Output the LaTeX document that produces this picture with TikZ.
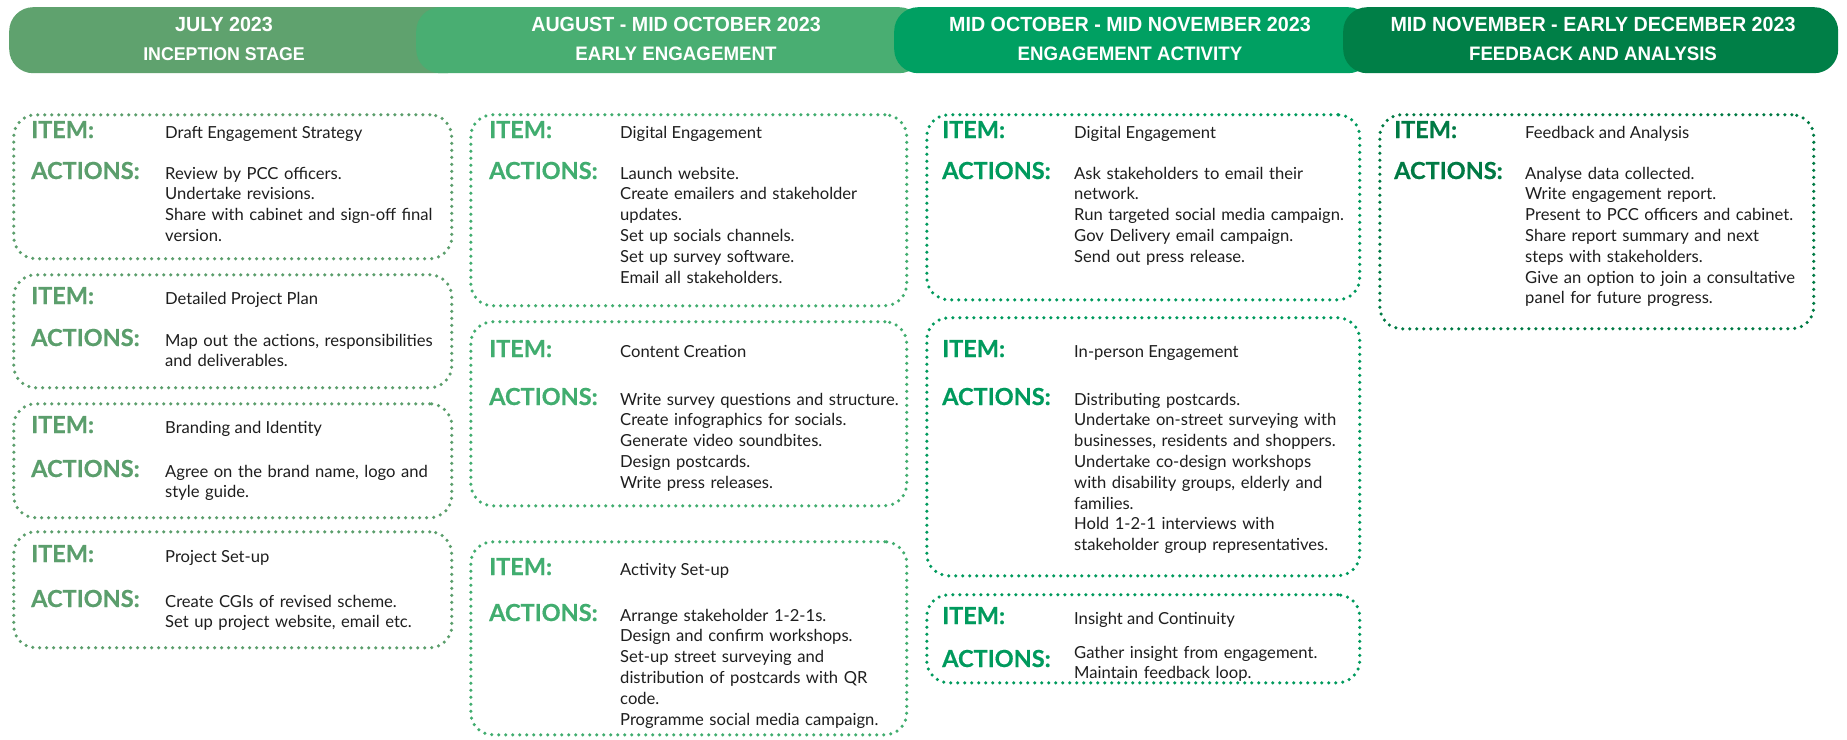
\documentclass[tikz,border=0pt]{standalone}
\usepackage{fontspec}
\setmainfont{Lato}
\newfontfamily\headfont[FakeStretch=0.96]{Liberation Sans}
\newfontfamily\labelfont[FakeBold=0.5]{Lato}
\usetikzlibrary{positioning}

\definecolor{phaseA}{HTML}{5FA26E}
\definecolor{phaseB}{HTML}{49AE72}
\definecolor{phaseC}{HTML}{00A062}
\definecolor{phaseD}{HTML}{007F47}
\definecolor{labelA}{HTML}{5B9E6C}
\definecolor{labelB}{HTML}{41AD6F}
\definecolor{labelC}{HTML}{009A5D}
\definecolor{labelD}{HTML}{007A44}
\definecolor{bodygray}{HTML}{1E1E1E}

\begin{document}
\begin{tikzpicture}[x=1pt,y=-1pt,
      phase/.style={rounded corners=24pt,anchor=north west,inner sep=0pt,minimum height=66pt},
      phasetext/.style={text=white,font=\headfont\bfseries\fontsize{20.5}{24}\selectfont,inner sep=0pt},
      phasesub/.style={phasetext,font=\headfont\bfseries\fontsize{19.5}{22}\selectfont},
      taskbox/.style={draw=#1,line width=3.5pt,dash pattern=on 0pt off 7pt,line cap=round,
                      rounded corners=22pt,anchor=north west,inner sep=0pt},
      lbl/.style={text=#1,font=\labelfont\bfseries\fontsize{23.5}{26}\selectfont,anchor=base west,inner sep=0pt},
      ttl/.style={text=bodygray,font=\fontsize{16.6}{20.8}\selectfont,anchor=base west,inner sep=0pt},
      acts/.style={ttl,text width=330pt,align=left}
     ]
    \useasboundingbox[fill=white] (0,0) rectangle (1847,739);

    \node[phase,fill=phaseA,minimum width=461pt] (julyband) at (9,7) {};
    \node[phase,fill=phaseB,minimum width=507pt] (augband) at (416,7) {};
    \node[phase,fill=phaseC,minimum width=478pt] (octband) at (894,7) {};
    \node[phase,fill=phaseD,minimum width=495pt] (novband) at (1343,7) {};
    \node[phasetext] (julytop) at (224,24) {JULY 2023};
    \node[phasesub,font=\headfont\bfseries\fontsize{18.5}{20}\selectfont] (julysub) at (224,54) {INCEPTION STAGE};
    \node[phasetext] (augtop) at (676,24) {AUGUST - MID OCTOBER 2023};
    \node[phasesub] (augsub) at (676,54) {EARLY ENGAGEMENT};
    \node[phasetext] (octtop) at (1130,24) {MID OCTOBER - MID NOVEMBER 2023};
    \node[phasesub] (octsub) at (1130,54) {ENGAGEMENT ACTIVITY};
    \node[phasetext] (novtop) at (1593,24) {MID NOVEMBER - EARLY DECEMBER 2023};
    \node[phasesub] (novsub) at (1593,54) {FEEDBACK AND ANALYSIS};

    \node[taskbox=labelA,minimum width=438pt,minimum height=144pt] (draft) at (12,113) {};
    \node[lbl=labelA] (draftitem) at (31,138) {ITEM:};
    \node[ttl] (drafttitle) at (165,138) {Draft Engagement Strategy};
    \node[lbl=labelA] (draftact) at (31,179) {ACTIONS:};
    \node[acts] (draftlist) at (165,179) {Review by PCC officers.\\Undertake revisions.\\Share with cabinet and sign-off final\\version.};

    \node[taskbox=labelA,minimum width=438pt,minimum height=113pt] (plan) at (12,273) {};
    \node[lbl=labelA] (planitem) at (31,304) {ITEM:};
    \node[ttl] (plantitle) at (165,304) {Detailed Project Plan};
    \node[lbl=labelA] (planact) at (31,346) {ACTIONS:};
    \node[acts] (planlist) at (165,346) {Map out the actions, responsibilities\\and deliverables.};

    \node[taskbox=labelA,minimum width=438pt,minimum height=114pt] (brand) at (12,402) {};
    \node[lbl=labelA] (branditem) at (31,433) {ITEM:};
    \node[ttl] (brandtitle) at (165,433) {Branding and Identity};
    \node[lbl=labelA] (brandact) at (31,477) {ACTIONS:};
    \node[acts] (brandlist) at (165,477) {Agree on the brand name, logo and\\style guide.};

    \node[taskbox=labelA,minimum width=438pt,minimum height=116pt] (setup) at (12,530) {};
    \node[lbl=labelA] (setupitem) at (31,562) {ITEM:};
    \node[ttl] (setuptitle) at (165,562) {Project Set-up};
    \node[lbl=labelA] (setupact) at (31,607) {ACTIONS:};
    \node[acts] (setuplist) at (165,607) {Create CGIs of revised scheme.\\Set up project website, email etc.};

    \node[taskbox=labelB,minimum width=436pt,minimum height=191pt] (digital) at (469,113) {};
    \node[lbl=labelB] (digitalitem) at (489,138) {ITEM:};
    \node[ttl] (digitaltitle) at (620,138) {Digital Engagement};
    \node[lbl=labelB] (digitalact) at (489,179) {ACTIONS:};
    \node[acts] (digitallist) at (620,179) {Launch website.\\Create emailers and stakeholder\\updates.\\Set up socials channels.\\Set up survey software.\\Email all stakeholders.};

    \node[taskbox=labelB,minimum width=436pt,minimum height=184pt] (content) at (469,320) {};
    \node[lbl=labelB] (contentitem) at (489,357) {ITEM:};
    \node[ttl] (contenttitle) at (620,357) {Content Creation};
    \node[lbl=labelB] (contentact) at (489,405) {ACTIONS:};
    \node[acts] (contentlist) at (620,405) {Write survey questions and structure.\\Create infographics for socials.\\Generate video soundbites.\\Design postcards.\\Write press releases.};

    \node[taskbox=labelB,minimum width=436pt,minimum height=193pt] (activity) at (469,540) {};
    \node[lbl=labelB] (activityitem) at (489,575) {ITEM:};
    \node[ttl] (activitytitle) at (620,575) {Activity Set-up};
    \node[lbl=labelB] (activityact) at (489,621) {ACTIONS:};
    \node[acts] (activitylist) at (620,621) {Arrange stakeholder 1-2-1s.\\Design and confirm workshops.\\Set-up street surveying and\\distribution of postcards with QR\\code.\\Programme social media campaign.};

    \node[taskbox=labelC,minimum width=433pt,minimum height=185pt] (outreach) at (925,113) {};
    \node[lbl=labelC] (outreachitem) at (942,138) {ITEM:};
    \node[ttl] (outreachtitle) at (1074,138) {Digital Engagement};
    \node[lbl=labelC] (outreachact) at (942,179) {ACTIONS:};
    \node[acts] (outreachlist) at (1074,179) {Ask stakeholders to email their\\network.\\Run targeted social media campaign.\\Gov Delivery email campaign.\\Send out press release.};

    \node[taskbox=labelC,minimum width=433pt,minimum height=258pt] (inperson) at (925,316) {};
    \node[lbl=labelC] (inpersonitem) at (942,357) {ITEM:};
    \node[ttl] (inpersontitle) at (1074,357) {In-person Engagement};
    \node[lbl=labelC] (inpersonact) at (942,405) {ACTIONS:};
    \node[acts] (inpersonlist) at (1074,405) {Distributing postcards.\\Undertake on-street surveying with\\businesses, residents and shoppers.\\Undertake co-design workshops\\with disability groups, elderly and\\families.\\Hold 1-2-1 interviews with\\stakeholder group representatives.};

    \node[taskbox=labelC,minimum width=433pt,minimum height=88pt] (insight) at (925,593) {};
    \node[lbl=labelC] (insightitem) at (942,624) {ITEM:};
    \node[ttl] (insighttitle) at (1074,624) {Insight and Continuity};
    \node[lbl=labelC] (insightact) at (942,667) {ACTIONS:};
    \node[acts] (insightlist) at (1074,658) {Gather insight from engagement.\\Maintain feedback loop.};

    \node[taskbox=labelD,minimum width=434pt,minimum height=214pt] (feedback) at (1378,113) {};
    \node[lbl=labelD] (feedbackitem) at (1394,138) {ITEM:};
    \node[ttl] (feedbacktitle) at (1525,138) {Feedback and Analysis};
    \node[lbl=labelD] (feedbackact) at (1394,179) {ACTIONS:};
    \node[acts] (feedbacklist) at (1525,179) {Analyse data collected.\\Write engagement report.\\Present to PCC officers and cabinet.\\Share report summary and next\\steps with stakeholders.\\Give an option to join a consultative\\panel for future progress.};
\end{tikzpicture}
\end{document}
